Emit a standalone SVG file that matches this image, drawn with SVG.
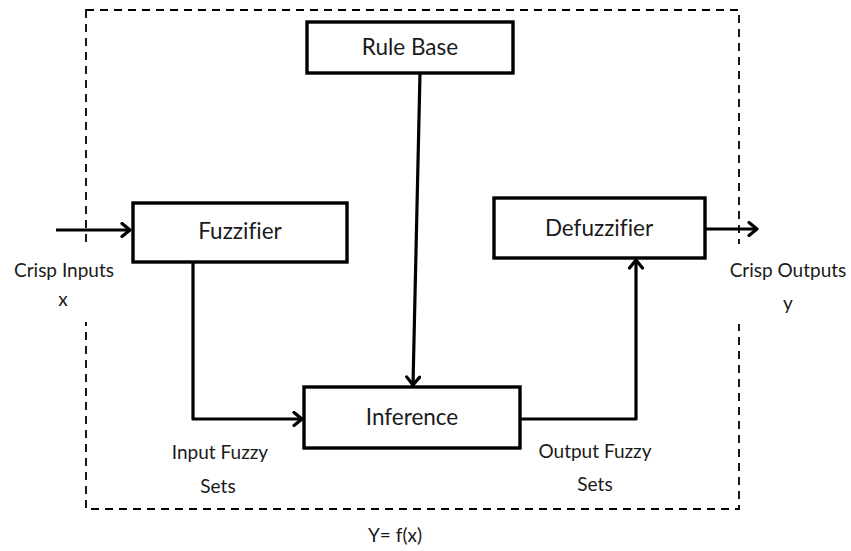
<svg xmlns="http://www.w3.org/2000/svg" width="851" height="551" viewBox="0 0 851 551">
  <style>
    .box { fill: #ffffff; stroke: #000000; stroke-width: 3.4; }
    .wire { fill: none; stroke: #000000; stroke-width: 3.2; stroke-linejoin: round; }
    .frame { fill: none; stroke: #000000; stroke-width: 1.8; stroke-dasharray: 8 6; }
    .pad { fill: #ffffff; stroke: none; }
    .lbl { font-family: Lato, "Open Sans", sans-serif; fill: #1a1a1a; text-anchor: middle; font-variant-ligatures: none; }
    .big { font-size: 22.5px; }
    .small { font-size: 19px; }
  </style>
  <defs>
    <marker id="arrow" markerWidth="16" markerHeight="16" refX="11" refY="8" orient="auto" markerUnits="userSpaceOnUse">
      <path d="M3,1.5 L11,8 L3,14.5" fill="none" stroke="#000000" stroke-width="3.2" stroke-linecap="round" stroke-linejoin="round"/>
    </marker>
  </defs>

  <rect x="0" y="0" width="851" height="551" fill="#ffffff"/>

  <!-- system boundary -->
  <rect class="frame" x="86" y="10" width="653" height="499"/>

  <!-- connectors -->
  <g id="connectors">
    <line class="wire" x1="56" y1="230" x2="130" y2="230" marker-end="url(#arrow)"/>
    <polyline class="wire" points="193,262 193,419 302,419" marker-end="url(#arrow)"/>
    <line class="wire" x1="420" y1="73" x2="413" y2="385" marker-end="url(#arrow)"/>
    <polyline class="wire" points="520,419 636,419 636,260" marker-end="url(#arrow)"/>
    <line class="wire" x1="705" y1="229" x2="757" y2="229" marker-end="url(#arrow)"/>
  </g>

  <g id="rule-base">
    <rect class="box" x="307" y="22" width="206" height="51"/>
    <text class="lbl big" x="410" y="55">Rule Base</text>
  </g>

  <g id="fuzzifier">
    <rect class="box" x="133" y="203" width="214" height="59"/>
    <text class="lbl big" x="240" y="239">Fuzzifier</text>
  </g>

  <g id="defuzzifier">
    <rect class="box" x="494" y="198" width="211" height="60"/>
    <text class="lbl big" x="599" y="236">Defuzzifier</text>
  </g>

  <g id="inference">
    <rect class="box" x="304" y="387" width="216" height="61"/>
    <text class="lbl big" x="412" y="425">Inference</text>
  </g>

  <!-- input / output labels sit on opaque pads over the boundary -->
  <g id="crisp-inputs">
    <rect class="pad" x="8" y="244" width="112" height="78"/>
    <text class="lbl small" x="64" y="277">Crisp Inputs</text>
    <text class="lbl small" x="63" y="306">x</text>
  </g>
  <g id="crisp-outputs">
    <rect class="pad" x="724" y="244" width="127" height="80"/>
    <text class="lbl small" x="788" y="277">Crisp Outputs</text>
    <text class="lbl small" x="788" y="310">y</text>
  </g>

  <text class="lbl small" x="220" y="459">Input Fuzzy</text>
  <text class="lbl small" x="218" y="493">Sets</text>
  <text class="lbl small" x="595" y="458">Output Fuzzy</text>
  <text class="lbl small" x="595" y="491">Sets</text>
  <text class="lbl small" x="395" y="542">Y= f(x)</text>
</svg>
